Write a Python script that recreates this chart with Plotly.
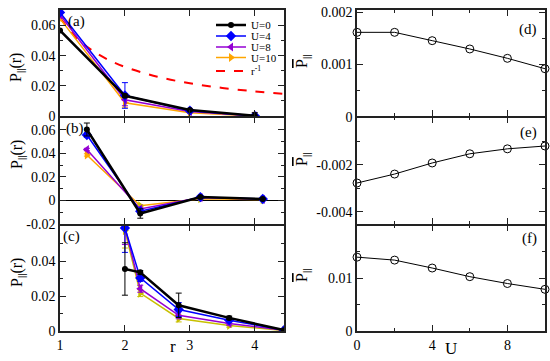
import plotly.graph_objects as go
from plotly.subplots import make_subplots

# ---------------- data ----------------
# panel (a)
r_a = [1.0, 2.0, 3.0, 4.0]
a_U0 = [0.0567, 0.0134, 0.0040, 0.0002]
a_U4 = [0.0686, 0.0136, 0.0035, 0.0001]
a_U8 = [0.0670, 0.0108, 0.0030, 0.0000]
a_U10 = [0.0645, 0.0088, 0.0022, 0.0000]
a_err_U0 = [0.0, 0.001, 0.0005, 0.002]
a_err_U4 = [0.0, 0.0085, 0.001, 0.001]
a_err_U8 = [0.0, 0.004, 0.0005, 0.001]
a_err_U10 = [0.0, 0.003, 0.0005, 0.001]

# r^-1 reference curve
r_ref = [1.0, 1.25, 1.5, 1.75, 2.0, 2.5, 3.0, 3.5, 4.0, 4.45]
p_ref = [0.065, 0.052, 0.0433, 0.0371, 0.0325, 0.026, 0.0217, 0.0186, 0.0163, 0.0146]

# panel (b)
r_b = [1.414, 2.236, 3.162, 4.123]
b_U0 = [0.0603, -0.0111, 0.0030, 0.0012]
b_U4 = [0.0556, -0.0091, 0.0028, 0.0012]
b_U8 = [0.0433, -0.0072, 0.0025, 0.0010]
b_U10 = [0.0387, -0.0045, 0.0015, 0.0008]
b_err_U0 = [0.0055, 0.004, 0.0005, 0.0005]
b_err_U4 = [0.002, 0.002, 0.0005, 0.0005]
b_err_U8 = [0.001, 0.001, 0.0005, 0.0005]
b_err_U10 = [0.001, 0.001, 0.0005, 0.0005]

# panel (c)
r_c = [2.0, 2.236, 2.828, 3.606, 4.45]
c_U0 = [0.0355, 0.0336, 0.0147, 0.0075, 0.0005]
c_U4 = [0.0590, 0.0304, 0.0123, 0.0062, 0.0005]
c_U8 = [0.0595, 0.0242, 0.0090, 0.0043, 0.0004]
c_U10 = [0.0575, 0.0217, 0.0072, 0.0032, 0.0003]
c_err_U0 = [0.015, 0.001, 0.007, 0.001, 0.0]
c_err_U4 = [0.014, 0.002, 0.004, 0.001, 0.0]
c_err_U8 = [0.010, 0.002, 0.002, 0.001, 0.0]
c_err_U10 = [0.010, 0.002, 0.002, 0.001, 0.0]

# right panels
U_vals = [0, 2, 4, 6, 8, 10]
d_vals = [0.00161, 0.00161, 0.00145, 0.00129, 0.00111, 0.00091]
e_vals = [-0.00278, -0.00240, -0.00193, -0.00154, -0.00133, -0.00121]
f_vals = [0.0140, 0.01344, 0.01194, 0.0103, 0.0090, 0.0079]

# ---------------- styling ----------------
FONT = "Liberation Serif"
BLACK = "#000000"
BLUE = "#0000ff"
VIOLET = "#9400d3"
ORANGE = "#ffa500"
OLIVE = "#c8c000"
FRAME = "#222222"

W, H = 550, 361

def px(x):
    return x / W

def py(y):
    return 1 - y / H

fig = make_subplots(rows=3, cols=2)

def add_series(row, x, y, err, name, color, symbol, size, width, legend=None, mcolor=None):
    fig.add_trace(go.Scatter(
        x=x, y=y, mode="lines+markers", name=name, showlegend=legend is not None,
        legend=legend if legend else "legend",
        line=dict(color=color, width=width),
        marker=dict(symbol=symbol, size=size, color=mcolor if mcolor else color,
                    line=dict(width=0)),
        error_y=dict(type="data", array=err, visible=True, color=color,
                     thickness=1, width=3),
        cliponaxis=True,
    ), row=row, col=1)

# (a)
fig.add_trace(go.Scatter(x=r_ref, y=p_ref, mode="lines", name="r<sup>-1</sup>",
                         line=dict(color="#ff0000", width=2, dash="dash", shape="spline"),
                         showlegend=True, legend="legend5"), row=1, col=1)
add_series(1, r_a, a_U10, a_err_U10, "U=10", ORANGE, "triangle-right", 8, 1.5, "legend4")
add_series(1, r_a, a_U8, a_err_U8, "U=8", VIOLET, "triangle-left", 8, 1.5, "legend3")
add_series(1, r_a, a_U4, a_err_U4, "U=4", BLUE, "diamond", 8, 1.5, "legend2")
add_series(1, r_a, a_U0, a_err_U0, "U=0", BLACK, "circle", 6, 2.5, "legend")

# (b)
add_series(2, r_b, b_U10, b_err_U10, "U=10", ORANGE, "triangle-right", 8, 1.5,
           mcolor=[ORANGE, OLIVE, OLIVE, OLIVE])
add_series(2, r_b, b_U8, b_err_U8, "U=8", VIOLET, "triangle-left", 8, 1.5)
add_series(2, r_b, b_U4, b_err_U4, "U=4", BLUE, "diamond", 8, 1.5)
add_series(2, r_b, b_U0, b_err_U0, "U=0", BLACK, "circle", 6, 2.5)

# (c)
add_series(3, r_c, c_U10, c_err_U10, "U=10", OLIVE, "triangle-right", 8, 1.5)
add_series(3, r_c, c_U8, c_err_U8, "U=8", VIOLET, "triangle-left", 8, 1.5)
add_series(3, r_c, c_U4, c_err_U4, "U=4", BLUE, "diamond", 8, 1.5)
add_series(3, r_c, c_U0, c_err_U0, "U=0", BLACK, "circle", 6, 2.5)

# right panels
for row, vals in [(1, d_vals), (2, e_vals), (3, f_vals)]:
    fig.add_trace(go.Scatter(
        x=U_vals, y=vals, mode="lines+markers", showlegend=False,
        line=dict(color=BLACK, width=1),
        marker=dict(symbol="circle-open", size=8, color=BLACK, line=dict(width=1)),
        cliponaxis=False,
    ), row=row, col=2)

# ---------------- axes ----------------
LW = 1.5
left_x = [px(60), px(284)]
right_x = [px(357), px(545)]
# panel boundaries (window pixels); 1.5 px gap so adjacent frame lines coincide
rows_y = [[py(116), py(10)], [py(224), py(116 + LW)], [py(331), py(224 + LW)]]

common = dict(showline=True, linecolor=FRAME, linewidth=LW, mirror="allticks",
              ticks="inside", ticklen=6, tickwidth=1, tickcolor=FRAME,
              showgrid=False, zeroline=False, automargin=False,
              tickfont=dict(family=FONT, size=14, color="black"))

def minor(vals):
    return dict(tickvals=vals, ticks="inside", ticklen=3, tickcolor=FRAME, showgrid=False)

for ax, row in [("xaxis", 0), ("xaxis3", 1), ("xaxis5", 2)]:
    fig.layout[ax].update(domain=left_x, range=[1, 4.45], tickvals=[1, 2, 3, 4],
                          ticktext=["1", "2", "3", "4"],
                          showticklabels=(row == 2), **common)
for ax, row in [("xaxis2", 0), ("xaxis4", 1), ("xaxis6", 2)]:
    fig.layout[ax].update(domain=right_x, range=[0, 10], tickvals=[0, 4, 8],
                          ticktext=["0", "4", "8"], minor=minor([2, 6]),
                          showticklabels=(row == 2), **common)

fig.layout.yaxis.update(domain=rows_y[0], range=[0, 0.0702],
                        tickvals=[0, 0.02, 0.04, 0.06], ticktext=["0", "0.02", "0.04", "0.06"],
                        minor=minor([0.01, 0.03, 0.05, 0.07]), **common)
fig.layout.yaxis3.update(domain=rows_y[1], range=[-0.02, 0.0705],
                         tickvals=[-0.02, 0, 0.02, 0.04, 0.06],
                         ticktext=["-0.02", "0", "0.02", "0.04", "0.06"],
                         minor=minor([-0.01, 0.01, 0.03, 0.05, 0.07]), **common)
fig.layout.yaxis3.update(zeroline=True, zerolinecolor=BLACK, zerolinewidth=1)
fig.layout.yaxis5.update(domain=rows_y[2], range=[0, 0.0604],
                         tickvals=[0, 0.02, 0.04], ticktext=["0", "0.02", "0.04"],
                         minor=minor([0.01, 0.03, 0.05]), **common)
fig.layout.yaxis2.update(domain=rows_y[0], range=[0, 0.00204],
                         tickvals=[0.001, 0.002], ticktext=["0.001", "0.002"],
                         minor=minor([0.0005, 0.0015]), **common)
fig.layout.yaxis4.update(domain=rows_y[1], range=[-0.00452, 0],
                         tickvals=[-0.004, -0.002, 0], ticktext=["-0.004", "-0.002", "0"],
                         minor=minor([-0.003, -0.001]), **common)
fig.layout.yaxis6.update(domain=rows_y[2], range=[0, 0.02],
                         tickvals=[0, 0.01], ticktext=["0", "0.01"],
                         minor=minor([0.005, 0.015]), **common)

# ---------------- annotations ----------------
ann = []
def A(text, x, y, size=15, angle=0, xanchor="center", yanchor="middle"):
    ann.append(dict(text=text, x=px(x), y=py(y), xref="paper", yref="paper",
                    showarrow=False, textangle=angle, xanchor=xanchor, yanchor=yanchor,
                    font=dict(family=FONT, size=size, color="black")))

A("(a)", 66, 22, 15, xanchor="left")
A("(b)", 64, 129, 15, xanchor="left")
A("(c)", 61, 237, 15, xanchor="left")
A("(d)", 539, 30, 15, xanchor="right")
A("(e)", 539, 132, 15, xanchor="right")
A("(f)", 539, 238, 15, xanchor="right")

ylab_left = "P<sub>||</sub>(r)"
A(ylab_left, 17, 68, 16, angle=-90)
A(ylab_left, 17, 155, 16, angle=-90)
A(ylab_left, 17, 273, 16, angle=-90)
ylab_right = "<span style='text-decoration:overline'>P</span><sub>||</sub>"
A(ylab_right, 302, 62, 16, angle=-90)
A(ylab_right, 302, 160, 16, angle=-90)
A(ylab_right, 302, 276, 16, angle=-90)

A("r", 173, 346, 17)
A("U", 451, 348, 17)

# one small legend per entry so the rows can sit as close as in the reference
legend_rows = {"legend": 25, "legend2": 36, "legend3": 47, "legend4": 57.5, "legend5": 71}
legend_layout = {}
for key, yrow in legend_rows.items():
    legend_layout[key] = dict(x=px(211), y=py(yrow), xanchor="left", yanchor="middle",
                              bgcolor="rgba(0,0,0,0)", borderwidth=0,
                              font=dict(family=FONT, size=11, color="black"),
                              itemwidth=30, tracegroupgap=0)

fig.update_layout(
    width=W, height=H,
    margin=dict(l=0, r=0, t=0, b=0, autoexpand=False),
    paper_bgcolor="white", plot_bgcolor="white",
    annotations=ann,
    showlegend=True,
    **legend_layout,
)

# remove the browser's default 8px page margin so the figure fills the window
fig.write_html("out.html", config={"displayModeBar": False},
               post_script="document.body.style.margin='0px';document.body.style.overflow='hidden';")
